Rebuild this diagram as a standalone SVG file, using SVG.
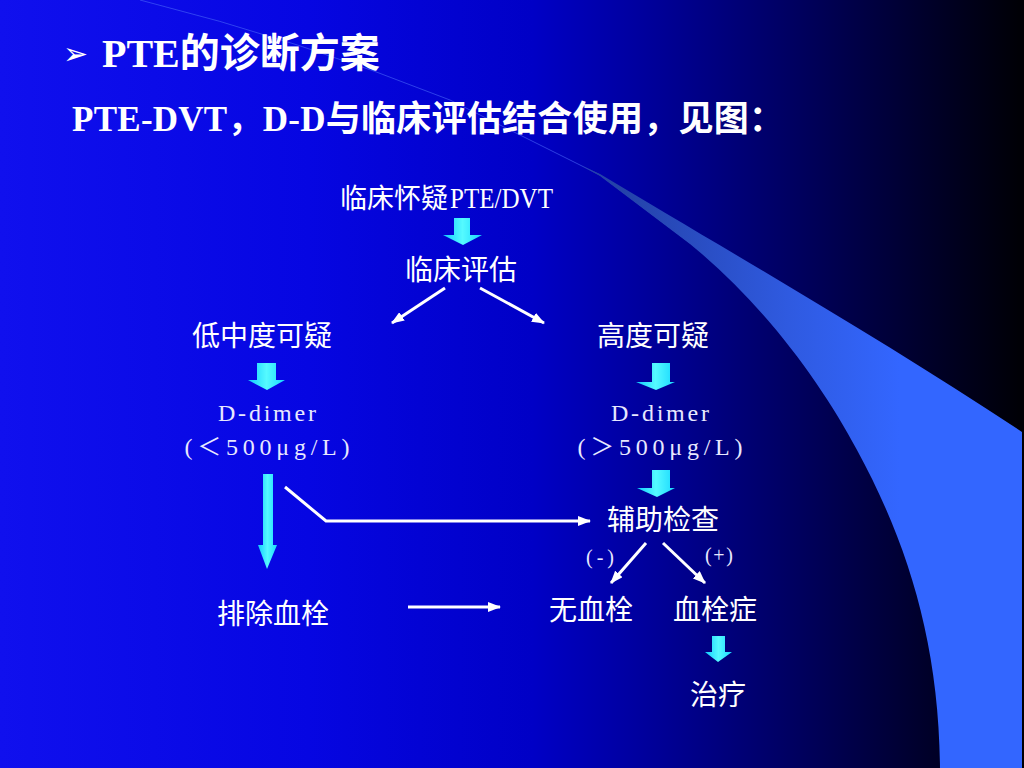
<svg xmlns="http://www.w3.org/2000/svg" width="1024" height="768" viewBox="0 0 1024 768">
<defs>
<linearGradient id="bg" x1="0" y1="0" x2="1024" y2="0" gradientUnits="userSpaceOnUse">
<stop offset="0" stop-color="#1010ee"/>
<stop offset="0.3" stop-color="#0606e2"/>
<stop offset="0.52" stop-color="#0000c6"/>
<stop offset="0.62" stop-color="#0000a0"/>
<stop offset="0.78" stop-color="#00005e"/>
<stop offset="0.9" stop-color="#00002c"/>
<stop offset="1" stop-color="#000004"/>
</linearGradient>
<linearGradient id="sw" x1="620" y1="0" x2="900" y2="0" gradientUnits="userSpaceOnUse">
<stop offset="0" stop-color="#2442a8"/>
<stop offset="0.6" stop-color="#2f5ae0"/>
<stop offset="1" stop-color="#3366ff"/>
</linearGradient>
<linearGradient id="cy" x1="0" y1="0" x2="1" y2="0">
<stop offset="0" stop-color="#10ccff"/>
<stop offset="0.5" stop-color="#55faff"/>
<stop offset="1" stop-color="#18d8ff"/>
</linearGradient>
<marker id="ah" markerWidth="13" markerHeight="10" refX="12" refY="5" orient="auto" markerUnits="userSpaceOnUse">
<path d="M0,0 L13,5 L0,10 Z" fill="#ffffff"/>
</marker>
<style>
.cj{font-family:"Noto Sans CJK SC","Noto Sans CJK TC",sans-serif;fill:#ffffff;font-size:28px;text-anchor:middle}
.mo{font-family:"Liberation Serif","Noto Sans CJK SC",serif;fill:#e8e8ff;font-size:24px;text-anchor:middle}
.ti{font-family:"Liberation Serif","Noto Sans CJK SC",serif;font-weight:bold;fill:#ffffff}
.wl{fill:none;stroke:#ffffff;stroke-width:3;marker-end:url(#ah)}
.cya{fill:url(#cy)}
</style>
</defs>
<rect width="1024" height="768" fill="url(#bg)"/>
<g id="swoosh">
<path d="M140,0 Q300,40 450,100 L600,175 L690,243" fill="none" stroke="#4a68f8" stroke-width="1" opacity="0.6"/>
<path d="M580,165 L600,174 C720,246 880,338 1022,432 L1022,768 L940,768 C939,640 906,540 857,450 C822,384 764,304 690,244 L600,176 Z" fill="url(#sw)"/>
</g>
<g id="title">
<text x="63" y="64" font-family="DejaVu Sans, sans-serif" font-size="30" fill="#ffffff">➢</text>
<text class="ti" x="102" y="67" font-size="40">PTE的诊断方案</text>
</g>
<g id="subtitle">
<text class="ti" x="72" y="131" font-size="35" textLength="712" lengthAdjust="spacing">PTE-DVT，D-D与临床评估结合使用，见图：</text>
</g>
<g id="connectors">
<path class="cya" d="M454,218 H470 V235 H482 L463,245 L443,235 H454 Z"/>
<path class="cya" d="M257,363 H276 V380 H285 L267,390 L248,380 H257 Z"/>
<path class="cya" d="M652,363 H670 V382 H675 L656,390 L636,382 H652 Z"/>
<path class="cya" d="M652,470 H670 V488 H675 L657,497 L637,488 H652 Z"/>
<path class="cya" d="M712,636 H725 V652 H732 L718,662 L705,652 H712 Z"/>
<path class="cya" d="M263,474 H273 V545 H277 L267,569 L258,545 H263 Z"/>
<line class="wl" x1="445" y1="288" x2="392" y2="323"/>
<line class="wl" x1="480" y1="288" x2="544" y2="323"/>
<polyline class="wl" points="285,487 326,521 590,521"/>
<line class="wl" x1="408" y1="607" x2="500" y2="607"/>
<line class="wl" x1="646" y1="543" x2="611" y2="583"/>
<line class="wl" x1="663" y1="543" x2="705" y2="583"/>
</g>
<g id="n-suspect">
<text class="cj" x="448" y="208" style="text-anchor:end;font-size:27px">临床怀疑</text>
<text class="mo" x="450" y="208" style="text-anchor:start;font-size:29px;fill:#ffffff" textLength="103" lengthAdjust="spacingAndGlyphs">PTE/DVT</text>
</g>
<g id="n-assess"><text class="cj" x="461" y="280">临床评估</text></g>
<g id="n-low"><text class="cj" x="262" y="346">低中度可疑</text></g>
<g id="n-high"><text class="cj" x="653" y="346">高度可疑</text></g>
<g id="n-dlow">
<text class="mo" x="267" y="421" textLength="98" lengthAdjust="spacing">D-dimer</text>
<text class="mo" x="267" y="455" textLength="165" lengthAdjust="spacing">(＜500μg/L)</text>
</g>
<g id="n-dhigh">
<text class="mo" x="660" y="421" textLength="98" lengthAdjust="spacing">D-dimer</text>
<text class="mo" x="660" y="455" textLength="165" lengthAdjust="spacing">(＞500μg/L)</text>
</g>
<g id="n-aux"><text class="cj" x="663" y="530">辅助检查</text></g>
<g id="l-neg"><text class="mo" x="600" y="564" style="font-size:20px" textLength="28" lengthAdjust="spacing">(-)</text></g>
<g id="l-pos"><text class="mo" x="719" y="562" style="font-size:20px" textLength="28" lengthAdjust="spacing">(+)</text></g>
<g id="n-exclude"><text class="cj" x="273" y="624">排除血栓</text></g>
<g id="n-nothrombus"><text class="cj" x="591" y="620">无血栓</text></g>
<g id="n-thrombosis"><text class="cj" x="715" y="620">血栓症</text></g>
<g id="n-treat"><text class="cj" x="718" y="705">治疗</text></g>
</svg>
